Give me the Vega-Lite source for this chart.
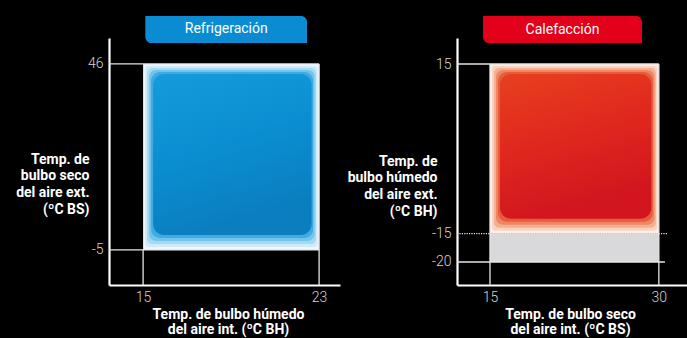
{
  "$schema": "https://vega.github.io/schema/vega-lite/v6.json",
  "autosize": {"type": "none"},
  "padding": {"left": 109, "top": 38, "right": 578, "bottom": 300},
  "background": "#000000",
  "spacing": 117,
  "bounds": "flush",
  "config": {
    "view": {"stroke": null},
    "axis": {
      "grid": false, "ticks": false, "domain": true, "domainColor": "#ffffff", "domainWidth": 2.2,
      "labelColor": "#d4d4d4", "labelFont": "Roboto", "labelFontSize": 14, "labelFontWeight": 300,
      "labelFlush": false, "labelOverlap": false,
      "labelExpr": "datum.value < 0 ? '-' + abs(datum.value) : '' + datum.value",
      "titleColor": "#ffffff", "titleFont": "Roboto", "titleFontSize": 14, "titleFontWeight": "bold"
    }
  },
  "hconcat": [
    {
      "width": 231, "height": 247,
      "encoding": {
        "x": {"field": "x", "type": "quantitative", "scale": {"domain": [13.45, 23.95], "nice": false, "zero": false},
          "axis": {"values": [15, 23], "labelPadding": 5, "title": ["Temp. de bulbo húmedo", "del aire int. (ºC BH)"], "titleX": 119, "titleY": 33, "titleBaseline": "alphabetic", "titleAlign": "center", "titleLineHeight": 15.5}},
        "y": {"field": "y", "type": "quantitative", "scale": {"domain": [-14.6, 53.1], "nice": false, "zero": false},
          "axis": {"values": [-5, 46], "labelPadding": 6, "title": ["Temp. de", "bulbo seco", "del aire ext.", "(ºC BS)"], "titleAngle": 0, "titleAlign": "right", "titleX": -20, "titleY": 125, "titleBaseline": "alphabetic", "titleLineHeight": 16.7}}
      },
      "layer": [
        {"data": {"values": [{"x": 15, "x2": 23, "y": -5, "y2": 46}]}, "mark": {"type": "rect", "color": "#eef8fc"}, "encoding": {"x2": {"field": "x2"}, "y2": {"field": "y2"}}},
        {"data": {"values": [{"x": 15, "x2": 23, "y": -5, "y2": 46}]}, "mark": {"type": "rect", "color": "#d0ebf7", "cornerRadius": 3, "xOffset": 2, "x2Offset": -1.5, "yOffset": -3, "y2Offset": 2}, "encoding": {"x2": {"field": "x2"}, "y2": {"field": "y2"}}},
        {"data": {"values": [{"x": 15, "x2": 23, "y": -5, "y2": 46}]}, "mark": {"type": "rect", "color": "#a6daf2", "cornerRadius": 5, "xOffset": 4, "x2Offset": -3, "yOffset": -6, "y2Offset": 4}, "encoding": {"x2": {"field": "x2"}, "y2": {"field": "y2"}}},
        {"data": {"values": [{"x": 15, "x2": 23, "y": -5, "y2": 46}]}, "mark": {"type": "rect", "color": "#74c3eb", "cornerRadius": 7, "xOffset": 6, "x2Offset": -4.5, "yOffset": -9, "y2Offset": 6}, "encoding": {"x2": {"field": "x2"}, "y2": {"field": "y2"}}},
        {"data": {"values": [{"x": 15, "x2": 23, "y": -5, "y2": 46}]}, "mark": {"type": "rect", "color": "#3eabe2", "cornerRadius": 9, "xOffset": 8, "x2Offset": -6, "yOffset": -12, "y2Offset": 8}, "encoding": {"x2": {"field": "x2"}, "y2": {"field": "y2"}}},
        {"data": {"values": [{"x": 15, "x2": 23, "y": -5, "y2": 46}]}, "mark": {"type": "rect", "cornerRadius": 11, "xOffset": 10, "x2Offset": -7.5, "yOffset": -15, "y2Offset": 10,
          "color": {"gradient": "linear", "x1": 0, "y1": 0, "x2": 0.3, "y2": 1, "stops": [{"offset": 0, "color": "#159bdb"}, {"offset": 0.5, "color": "#0b8fd2"}, {"offset": 1, "color": "#0a7ebf"}]}}, "encoding": {"x2": {"field": "x2"}, "y2": {"field": "y2"}}},
        {"data": {"values": [{"x": 13.45, "x2": 23, "y": 46}, {"x": 13.45, "x2": 23, "y": -5}]}, "mark": {"type": "rule", "color": "#e6e6e6", "strokeWidth": 1.3}, "encoding": {"x2": {"field": "x2"}}},
        {"data": {"values": [{"x": 15, "y": -14.6, "y2": -5}, {"x": 23, "y": -14.6, "y2": 46}]}, "mark": {"type": "rule", "color": "#e6e6e6", "strokeWidth": 1.3}, "encoding": {"y2": {"field": "y2"}}},
        {"data": {"values": [{"x": 15.1, "x2": 22.45, "y": 51.76, "y2": 59.16}]}, "mark": {"type": "rect", "color": "#0a8bd2", "cornerRadiusTopRight": 6, "cornerRadiusBottomLeft": 6}, "encoding": {"x2": {"field": "x2"}, "y2": {"field": "y2"}}},
        {"data": {"values": [{"x": 18.78, "y": 55.46, "label": "Refrigeración"}]}, "mark": {"type": "text", "color": "#ffffff", "font": "Roboto", "fontSize": 14, "align": "center", "baseline": "middle"}, "encoding": {"text": {"field": "label"}}}
      ]
    },
    {
      "width": 230, "height": 247,
      "encoding": {
        "x": {"field": "x", "type": "quantitative", "scale": {"domain": [12.07, 32.5], "nice": false, "zero": false},
          "axis": {"values": [15, 30], "labelPadding": 5, "title": ["Temp. de bulbo seco", "del aire int. (ºC BS)"], "titleX": 113, "titleY": 33, "titleBaseline": "alphabetic", "titleAlign": "center", "titleLineHeight": 15.5}},
        "y": {"field": "y", "type": "quantitative", "scale": {"domain": [-24.07, 19.6], "nice": false, "zero": false},
          "axis": {"values": [-20, -15, 15], "labelPadding": 6, "title": ["Temp. de", "bulbo húmedo", "del aire ext.", "(ºC BH)"], "titleAngle": 0, "titleAlign": "right", "titleX": -20, "titleY": 127, "titleBaseline": "alphabetic", "titleLineHeight": 16.7}}
      },
      "layer": [
        {"data": {"values": [{"x": 15, "x2": 30, "y": -20, "y2": -15}]}, "mark": {"type": "rect", "color": "#d9d9db"}, "encoding": {"x2": {"field": "x2"}, "y2": {"field": "y2"}}},
        {"data": {"values": [{"x": 15, "x2": 30, "y": -15, "y2": 15}]}, "mark": {"type": "rect", "color": "#fdefe8"}, "encoding": {"x2": {"field": "x2"}, "y2": {"field": "y2"}}},
        {"data": {"values": [{"x": 15, "x2": 30, "y": -15, "y2": 15}]}, "mark": {"type": "rect", "color": "#f9d3c1", "cornerRadius": 3, "xOffset": 2, "x2Offset": -1.5, "yOffset": -3, "y2Offset": 2}, "encoding": {"x2": {"field": "x2"}, "y2": {"field": "y2"}}},
        {"data": {"values": [{"x": 15, "x2": 30, "y": -15, "y2": 15}]}, "mark": {"type": "rect", "color": "#f4ae91", "cornerRadius": 5, "xOffset": 4, "x2Offset": -3, "yOffset": -6, "y2Offset": 4}, "encoding": {"x2": {"field": "x2"}, "y2": {"field": "y2"}}},
        {"data": {"values": [{"x": 15, "x2": 30, "y": -15, "y2": 15}]}, "mark": {"type": "rect", "color": "#ee8563", "cornerRadius": 7, "xOffset": 6, "x2Offset": -4.5, "yOffset": -9, "y2Offset": 6}, "encoding": {"x2": {"field": "x2"}, "y2": {"field": "y2"}}},
        {"data": {"values": [{"x": 15, "x2": 30, "y": -15, "y2": 15}]}, "mark": {"type": "rect", "color": "#e85c3a", "cornerRadius": 9, "xOffset": 8, "x2Offset": -6, "yOffset": -12, "y2Offset": 8}, "encoding": {"x2": {"field": "x2"}, "y2": {"field": "y2"}}},
        {"data": {"values": [{"x": 15, "x2": 30, "y": -15, "y2": 15}]}, "mark": {"type": "rect", "cornerRadius": 11, "xOffset": 10, "x2Offset": -7.5, "yOffset": -15, "y2Offset": 10,
          "color": {"gradient": "linear", "x1": 0, "y1": 0, "x2": 0.3, "y2": 1, "stops": [{"offset": 0, "color": "#e8401f"}, {"offset": 0.5, "color": "#e0281e"}, {"offset": 1, "color": "#d2151f"}]}}, "encoding": {"x2": {"field": "x2"}, "y2": {"field": "y2"}}},
        {"data": {"values": [{"x": 12.07, "x2": 30, "y": 15}, {"x": 12.07, "x2": 30.54, "y": -20}]}, "mark": {"type": "rule", "color": "#e6e6e6", "strokeWidth": 1.3}, "encoding": {"x2": {"field": "x2"}}},
        {"data": {"values": [{"x": 12.07, "x2": 30.72, "y": -15}]}, "mark": {"type": "rule", "color": "#e6e6e6", "strokeWidth": 1.2, "strokeDash": [1.2, 1.2]}, "encoding": {"x2": {"field": "x2"}}},
        {"data": {"values": [{"x": 15, "y": -24.07, "y2": 15}, {"x": 30, "y": -24.07, "y2": 15}]}, "mark": {"type": "rule", "color": "#e6e6e6", "strokeWidth": 1.3}, "encoding": {"y2": {"field": "y2"}}},
        {"data": {"values": [{"x": 14.38, "x2": 28.5, "y": 18.7, "y2": 23.49}]}, "mark": {"type": "rect", "color": "#e2001a", "cornerRadiusTopRight": 6, "cornerRadiusBottomLeft": 6}, "encoding": {"x2": {"field": "x2"}, "y2": {"field": "y2"}}},
        {"data": {"values": [{"x": 21.44, "y": 21.1, "label": "Calefacción"}]}, "mark": {"type": "text", "color": "#ffffff", "font": "Roboto", "fontSize": 14, "align": "center", "baseline": "middle"}, "encoding": {"text": {"field": "label"}}}
      ]
    }
  ]
}
